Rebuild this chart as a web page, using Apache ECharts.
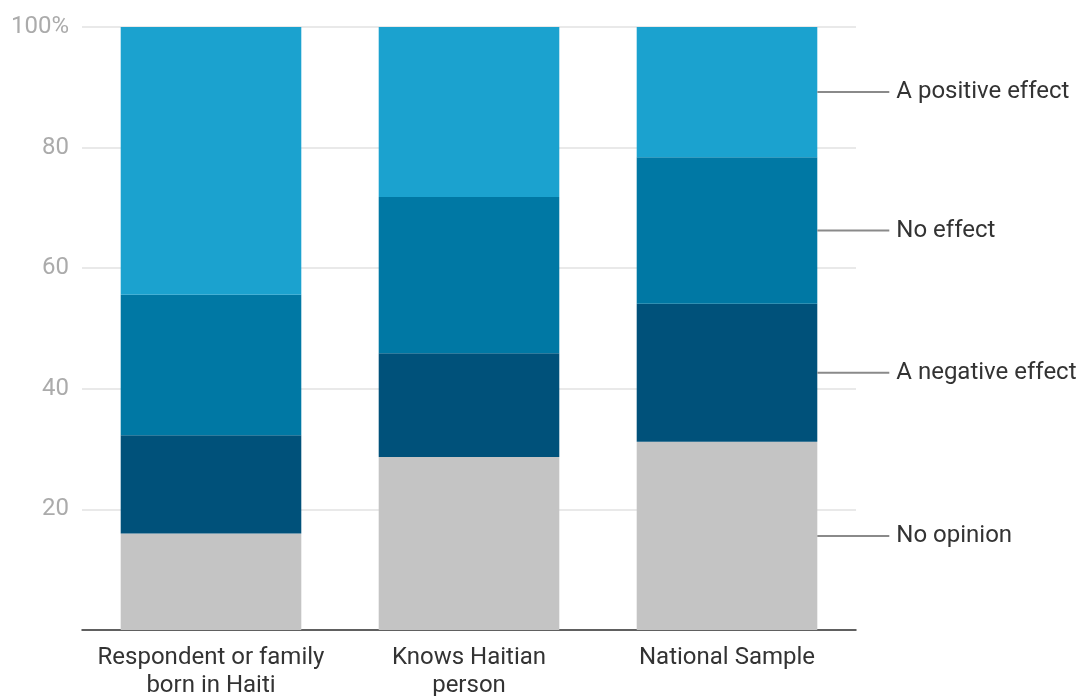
<!DOCTYPE html>
<html>
<head>
<meta charset="utf-8">
<script src="https://cdn.jsdelivr.net/npm/echarts@6/dist/echarts.min.js"></script>
<style>
  html, body { margin: 0; padding: 0; background: #fff; }
  #chart { width: 1079px; height: 696px; }
</style>
</head>
<body>
<div id="chart"></div>
<script>
// Groups along the x axis
const categories = ['Respondent or family\nborn in Haiti', 'Knows Haitian\nperson', 'National Sample'];

// Share of answers (%) per group, stacked bottom to top
const noOpinion = [16.0, 28.7, 31.2];
const negativeEffect = [16.3, 17.2, 22.9];
const noEffect = [23.3, 25.9, 24.3];
const positiveEffect = [44.4, 28.2, 21.6];

const seriesNames = ['No opinion', 'A negative effect', 'No effect', 'A positive effect'];
const seriesColors = ['#c4c4c4', '#00517a', '#0078a4', '#1ba2cf'];
const seriesValues = [noOpinion, negativeEffect, noEffect, positiveEffect];

const yTicks = [20, 40, 60, 80, 100];

const chart = echarts.init(document.getElementById('chart'), null, { renderer: 'canvas' });

// Each series is labelled once, beside the last bar, with a short leader line
const series = seriesNames.map((name, i) => ({
  name: name,
  type: 'bar',
  stack: 'total',
  barWidth: '70%',
  itemStyle: { color: seriesColors[i] },
  emphasis: { disabled: true },
  data: seriesValues[i].map((v, j) => {
    if (j !== categories.length - 1) return v;
    return {
      value: v,
      label: {
        show: true,
        position: 'right',
        distance: 0,
        formatter: '{l| }{t|' + name + '}',
        rich: {
          l: { width: 72, height: 2, backgroundColor: '#8a8a8a' },
          t: { fontFamily: 'Roboto', fontSize: 24, color: '#333', padding: [0, 0, 0, 7] }
        }
      }
    };
  })
}));

chart.setOption({
  animation: false,
  grid: { left: 82, right: 223, top: 27, bottom: 66, containLabel: false, outerBoundsMode: 'none' },
  xAxis: {
    type: 'category',
    data: categories,
    axisLine: { lineStyle: { color: '#333', width: 1.5 } },
    axisTick: { show: false },
    axisLabel: {
      fontFamily: 'Roboto',
      fontSize: 24,
      color: '#333',
      lineHeight: 28,
      margin: 14,
      interval: 0
    }
  },
  yAxis: {
    type: 'value',
    min: 0,
    max: 100,
    interval: 20,
    axisLine: { show: false },
    axisTick: { show: false },
    splitLine: { lineStyle: { color: '#e2e2e2', width: 1.5 } },
    axisLabel: {
      fontFamily: 'Roboto',
      fontSize: 24,
      color: '#ababab',
      margin: 13,
      formatter: v => (yTicks.indexOf(v) < 0 ? '' : (v === 100 ? '100%' : String(v)))
    }
  },
  series: series
});
</script>
</body>
</html>
